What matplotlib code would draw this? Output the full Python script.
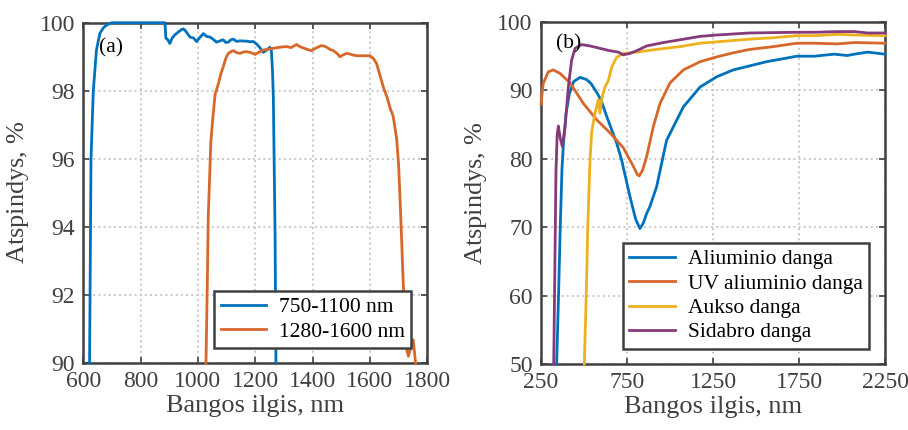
import numpy as np
import matplotlib
matplotlib.use("Agg")
from matplotlib import pyplot as plt

# (a) Bragg mirrors
WL_750 = [622, 627, 635, 646, 658, 670, 681, 700, 885, 888, 895, 902, 910, 920, 935, 943,
          949, 955, 960, 972, 985, 995, 1005, 1019, 1030, 1042, 1055, 1065, 1078, 1088,
          1097, 1106, 1115, 1123, 1135, 1147, 1160, 1170, 1182, 1193, 1205, 1215, 1228,
          1240, 1251, 1256, 1260, 1263, 1266, 1269, 1272]
R_750 = [90.0, 96.0, 98.0, 99.2, 99.69, 99.85, 99.93, 100.0, 100.0, 99.55, 99.5, 99.39,
         99.55, 99.65, 99.75, 99.8, 99.82, 99.78, 99.72, 99.58, 99.55, 99.45, 99.55, 99.68,
         99.6, 99.58, 99.5, 99.43, 99.47, 99.5, 99.42, 99.43, 99.5, 99.52, 99.45, 99.47,
         99.46, 99.46, 99.44, 99.45, 99.37, 99.28, 99.13, 99.2, 99.28, 99.2, 98.6, 97.8,
         95.8, 93.8, 90.0]

WL_1280 = [1028, 1033, 1036, 1045, 1053, 1060, 1071, 1080, 1088, 1097, 1106, 1115, 1123,
           1135, 1147, 1158, 1170, 1185, 1199, 1212, 1228, 1245, 1263, 1285, 1309, 1325,
           1344, 1355, 1367, 1380, 1396, 1410, 1431, 1445, 1460, 1472, 1485, 1495, 1505,
           1519, 1530, 1542, 1555, 1565, 1580, 1600, 1612, 1623, 1635, 1647, 1660, 1670,
           1681, 1693, 1700, 1705, 1711, 1716, 1722, 1728, 1734, 1742, 1751, 1759]
R_1280 = [90.0, 92.5, 94.3, 96.5, 97.3, 97.9, 98.2, 98.5, 98.7, 98.95, 99.1, 99.15, 99.18,
          99.12, 99.1, 99.14, 99.15, 99.12, 99.07, 99.13, 99.2, 99.22, 99.25, 99.28, 99.3,
          99.27, 99.36, 99.3, 99.26, 99.22, 99.18, 99.25, 99.33, 99.3, 99.22, 99.18, 99.1,
          99.0, 99.05, 99.1, 99.08, 99.05, 99.03, 99.03, 99.03, 99.03, 98.95, 98.8, 98.45,
          98.1, 97.8, 97.5, 97.25, 96.6, 95.8, 94.8, 93.5, 92.35, 91.3, 90.4, 90.2, 90.45,
          90.68, 90.0]

# (b) metal coatings
WL_AL = [341, 352, 362, 372, 380, 395, 415, 440, 477, 515, 541, 574, 599, 632, 690, 719,
         767, 800, 825, 845, 864, 883, 922, 980, 1078, 1175, 1272, 1368, 1465, 1562, 1650,
         1737, 1839, 1955, 2030, 2072, 2149, 2250]
R_AL = [50, 60, 70, 78.5, 82, 86.5, 89.5, 91.3, 91.9, 91.6, 91.0, 89.7, 88.6, 86.2, 82.3,
        79.8, 74.5, 71.2, 69.8, 70.6, 72.0, 73.0, 75.9, 82.7, 87.6, 90.5, 92.0, 93.0, 93.6,
        94.2, 94.6, 95.0, 95.0, 95.3, 95.1, 95.3, 95.6, 95.3]

WL_UVAL = [250, 263, 292, 321, 360, 419, 496, 574, 651, 729, 787, 810, 821, 840, 864, 903,
           942, 1000, 1078, 1175, 1272, 1368, 1465, 1600, 1737, 1839, 1975, 2072, 2250]
R_UVAL = [88.0, 91.0, 92.7, 93.0, 92.5, 91.1, 88.1, 85.7, 83.8, 81.6, 78.9, 77.7, 77.5,
          78.3, 80.3, 84.7, 88.1, 91.1, 93.0, 94.2, 94.9, 95.5, 96.0, 96.4, 96.9, 96.9,
          96.8, 97.0, 96.9]

WL_AU = [502, 513, 522, 535, 545, 564, 583, 593, 603, 622, 641, 661, 690, 729, 806, 922,
         1058, 1175, 1272, 1368, 1465, 1600, 1737, 1839, 1975, 2072, 2250]
R_AU = [50, 60, 70, 79.8, 84, 86.65, 88.6, 86.65, 88.8, 90.5, 91.4, 93.4, 94.85, 95.4,
        95.6, 96.0, 96.4, 96.9, 97.1, 97.3, 97.5, 97.7, 98.0, 98.0, 98.2, 98.1, 98.0]

WL_AG = [324, 331, 337, 344, 351, 362, 374, 390, 409, 428, 448, 486, 535, 593, 651, 700,
         727, 767, 806, 864, 961, 1058, 1175, 1272, 1368, 1465, 1600, 1737, 1839, 1975,
         2072, 2149, 2250]
R_AG = [50, 65, 78, 83.5, 84.8, 83.0, 81.8, 84.7, 90.5, 94.4, 96.15, 96.7, 96.5, 96.15,
        95.8, 95.6, 95.2, 95.4, 95.8, 96.5, 97.0, 97.4, 97.9, 98.1, 98.25, 98.4, 98.45,
        98.5, 98.5, 98.6, 98.6, 98.4, 98.4]

BLUE, ORANGE, YELLOW, PURPLE = "#0072BD", "#D8672A", "#EDB120", "#853A7C"
AX_COLOR = "#404040"

plt.rcParams["font.family"] = ["Liberation Serif", "DejaVu Serif"]
plt.rcParams["mathtext.fontset"] = "custom"
plt.rcParams["mathtext.rm"] = "Liberation Serif"
plt.rcParams["mathtext.it"] = "Liberation Serif:italic"

fig = plt.figure(figsize=(9.08, 4.30), dpi=100)
ax1 = fig.add_axes([0.0917, 0.1558, 0.3789, 0.7913])
ax2 = fig.add_axes([0.5958, 0.1535, 0.3789, 0.7953])


def style(ax):
    for s in ax.spines.values():
        s.set_color(AX_COLOR)
        s.set_linewidth(1.8)
    ax.tick_params(direction="in", length=4, width=1.2, top=True, right=True,
                   colors=AX_COLOR, labelsize=17, pad=6)
    ax.grid(True, linestyle=":", color="#c8c8c8", linewidth=1.4)
    ax.set_axisbelow(True)
    ax.set_xlabel("Bangos ilgis, nm", fontsize=19, color=AX_COLOR, labelpad=2)
    ax.set_ylabel(r"Atspindys, $\mathit{\%}$", fontsize=19, color=AX_COLOR, labelpad=6)


# lines stay inside the limits, so draw them unclipped on top of the frame
kw = dict(lw=2.0, zorder=3, clip_on=False)
ax1.plot(WL_750, R_750, color=BLUE, label="750-1100 nm", **kw)
ax1.plot(WL_1280, R_1280, color=ORANGE, label="1280-1600 nm", **kw)
ax1.set_xlim(600, 1800)
ax1.set_ylim(90, 100)
ax1.set_xticks(np.arange(600, 1801, 200))
ax1.set_yticks(np.arange(90, 101, 2))
style(ax1)
ax1.text(0.046, 0.926, "(a)", transform=ax1.transAxes, fontsize=15.5, va="center")

ax2.plot(WL_AL, R_AL, color=BLUE, label="Aliuminio danga", **kw)
ax2.plot(WL_UVAL, R_UVAL, color=ORANGE, label="UV aliuminio danga", **kw)
ax2.plot(WL_AU, R_AU, color=YELLOW, label="Aukso danga", **kw)
ax2.plot(WL_AG, R_AG, color=PURPLE, label="Sidabro danga", **kw)
ax2.set_xlim(250, 2250)
ax2.set_ylim(50, 100)
ax2.set_xticks(np.arange(250, 2251, 500))
ax2.set_yticks(np.arange(50, 101, 10))
style(ax2)
ax2.text(0.044, 0.936, "(b)", transform=ax2.transAxes, fontsize=15.5, va="center")

for ax in (ax1, ax2):
    leg = ax.legend(loc="lower right", bbox_to_anchor=(0.953, 0.044), borderaxespad=0,
                    fontsize=15.5, fancybox=False, framealpha=1, edgecolor=AX_COLOR,
                    handlelength=2.1, labelspacing=0.2, borderpad=0.3, handletextpad=0.6)
    leg.get_frame().set_linewidth(1.8)
    leg.set_zorder(5)

fig.savefig("out.png", dpi=100)
